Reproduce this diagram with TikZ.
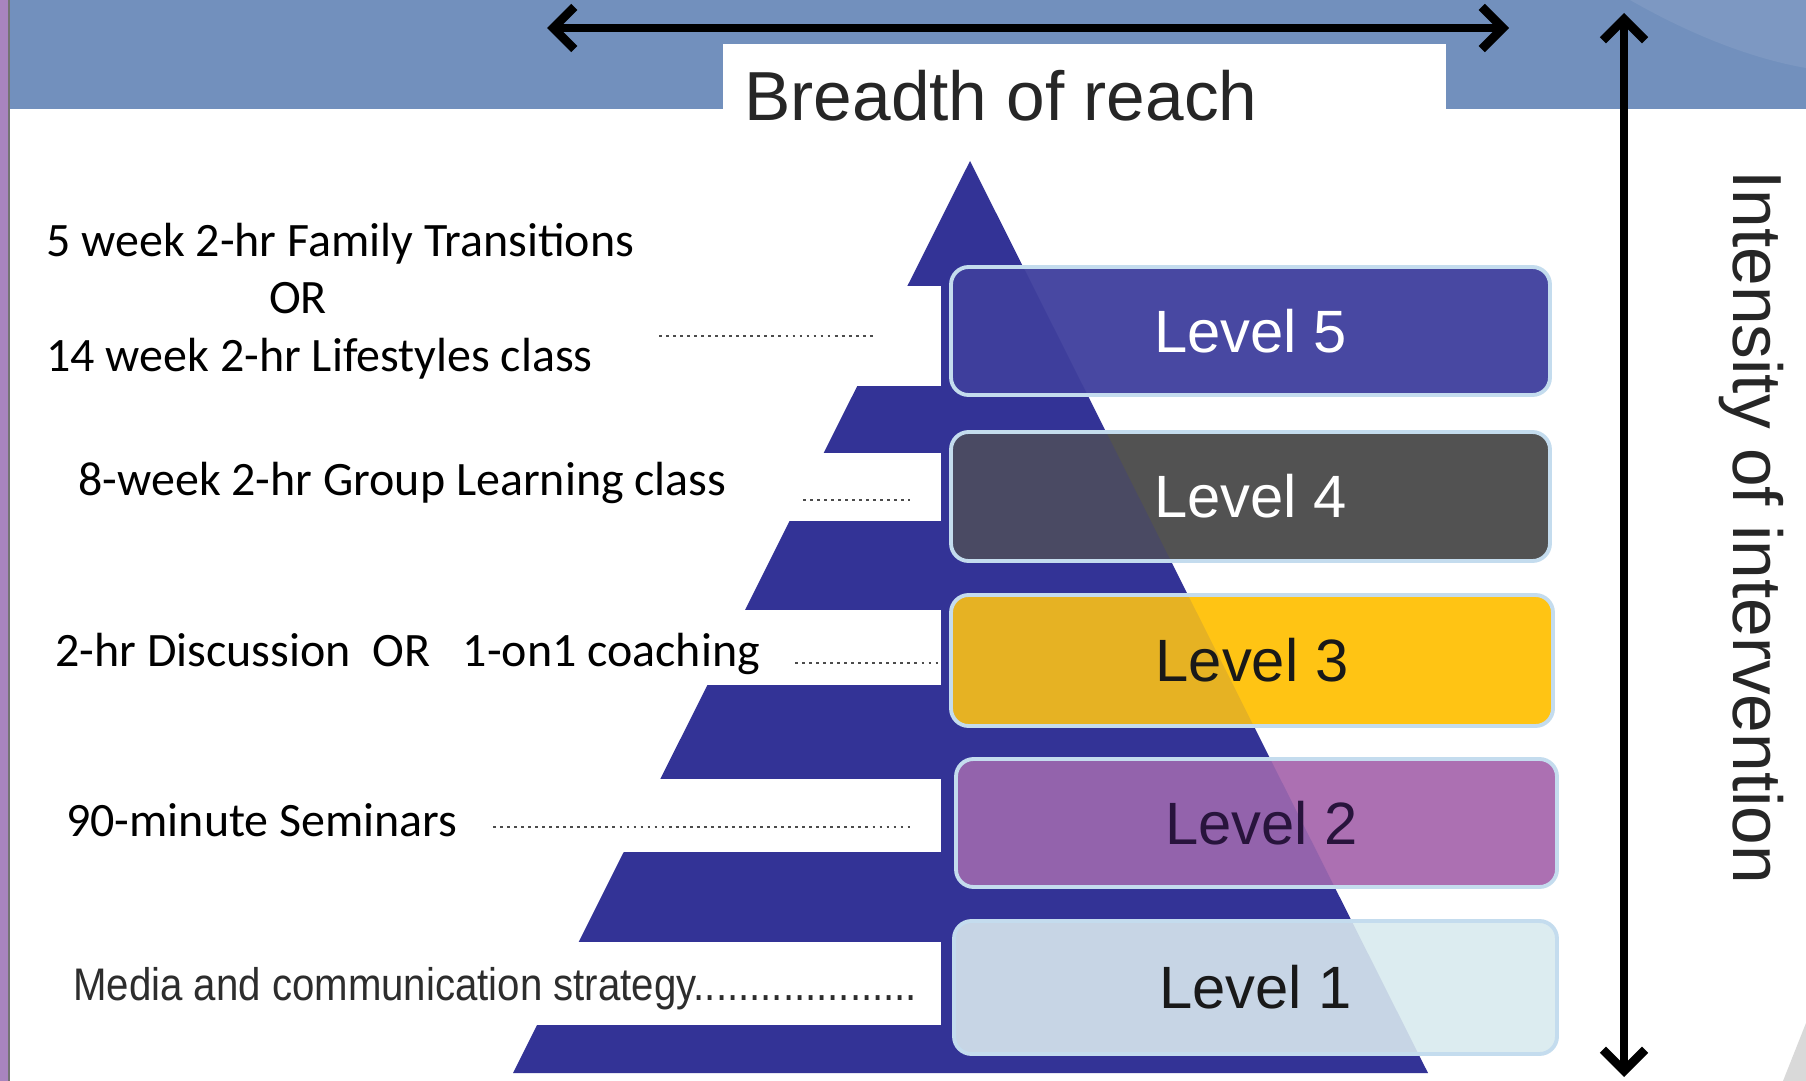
\documentclass[tikz,border=0pt]{standalone}
\usepackage{fontspec}
\setmainfont{Liberation Sans}
\newfontfamily\calib{Carlito}
\usetikzlibrary{arrows.meta}
\definecolor{bandblue}{RGB}{114,144,189}
\definecolor{navy}{RGB}{51,51,150}
\definecolor{lvfive}{RGB}{72,72,162}
\definecolor{lvfour}{RGB}{82,82,82}
\definecolor{lvthree}{RGB}{255,196,20}
\definecolor{lvtwo}{RGB}{172,112,178}
\definecolor{lvone}{RGB}{220,236,240}
\definecolor{glow}{RGB}{196,220,238}
\definecolor{leftpurple}{RGB}{168,132,190}
\definecolor{mediagray}{RGB}{45,45,45}
\definecolor{lvtwotext}{RGB}{40,20,60}
\begin{document}
\begin{tikzpicture}[x=0.02cm,y=-0.02cm,
  levelbox/.style={draw=glow, line width=2.2pt, rounded corners=10pt, inner sep=0pt, font=\fontsize{34}{40}\selectfont},
  shade/.style={path picture={\fill[navy, fill opacity=#1] (apex) -- (baseR) -- (baseL) -- cycle;}},
  sidelabel/.style={anchor=base west, inner sep=0pt, font=\calib\fontsize{27.3}{32}\selectfont},
  axislabel/.style={inner sep=0pt, font=\fontsize{39.5}{46}\selectfont, text=black!85},
  dotleader/.style={draw=black!70, line width=1.6pt, dash pattern=on 1.6pt off 2.4pt},
  bigarrow/.style={line width=5pt, {Straight Barb[length=12pt,width=24pt]}-{Straight Barb[length=12pt,width=24pt]}}
]
\useasboundingbox (0,0) rectangle (1806,1081);
\fill[white] (0,0) rectangle (1806,1081);
% left purple strip
\fill[leftpurple] (0,0) rectangle (8,1081);
\fill[black!55] (8,0) rectangle (10,1081);
% top band
\fill[bandblue] (10,0) rectangle (1806,109);
\fill[white, fill opacity=0.08] (1630,0) .. controls (1700,40) and (1760,60) .. (1806,68) -- (1806,0) -- cycle;
\fill[white] (723,44) rectangle (1446,112);
% bottom-right wedge
\fill[black!15] (1783,1081) -- (1806,1023) -- (1806,1081) -- cycle;
% pyramid
\coordinate (apex) at (970,161);
\coordinate (baseR) at (1428,1073);
\coordinate (baseL) at (513,1073);
\fill[navy] (apex) -- (baseR) -- (baseL) -- cycle;
% white cut-outs
\fill[white] (10,286) rectangle (941,386);
\fill[white] (10,453) rectangle (941,521);
\fill[white] (10,610) rectangle (941,685);
\fill[white] (10,779) rectangle (941,852);
\fill[white] (10,942) rectangle (941,1025);
% level boxes
\node[levelbox, fill=lvfive, shade=0.45, text=white, minimum width={599*0.02cm}, minimum height={128*0.02cm}] (L5) at (1250.5,331) {Level 5};
\node[levelbox, fill=lvfour, shade=0.25, text=white, minimum width={599*0.02cm}, minimum height={129*0.02cm}] (L4) at (1250.5,496.5) {Level 4};
\node[levelbox, fill=lvthree, shade=0.12, text=black!90, minimum width={602*0.02cm}, minimum height={131*0.02cm}] (L3) at (1252,660.5) {Level 3};
\node[levelbox, fill=lvtwo, shade=0.2, text=lvtwotext, minimum width={601*0.02cm}, minimum height={128*0.02cm}] (L2) at (1256.5,823) {\hspace*{6pt}Level 2};
\node[levelbox, fill=lvone, shade=0.12, text=black!90, minimum width={603*0.02cm}, minimum height={133*0.02cm}] (L1) at (1255.5,987.5) {Level 1};
% left labels
\node[sidelabel] (lab5a) at (46,257) {5 week 2-hr Family Transitions};
\node[sidelabel, anchor=base] (lab5or) at (298,314) {OR};
\node[sidelabel] (lab5b) at (46,372) {14 week 2-hr Lifestyles class};
\node[sidelabel] (lab4) at (78,495) {8-week 2-hr Group Learning class};
\node[sidelabel] (lab3) at (55,666) {2-hr Discussion\ \ OR\ \ \ 1-on1 coaching};
\node[sidelabel] (lab2) at (66,836) {90-minute Seminars};
\node[anchor=base west, inner sep=0pt, xscale=0.88, text=mediagray, font=\fontsize{26}{30}\selectfont] (lab1) at (73,1000) {Media and communication strategy....................};
% dotted leaders
\coordinate (d5a) at (659,336); \coordinate (d5b) at (875,336);
\coordinate (d4a) at (803,500); \coordinate (d4b) at (910,500);
\coordinate (d3a) at (795,663); \coordinate (d3b) at (942,663);
\coordinate (d2a) at (493,827); \coordinate (d2b) at (910,827);
\draw[dotleader] (d5a) -- (d5b);
\draw[dotleader] (d4a) -- (d4b);
\draw[dotleader] (d3a) -- (d3b);
\draw[dotleader] (d2a) -- (d2b);
% axes
\coordinate (hL) at (547,28); \coordinate (hR) at (1509,28);
\coordinate (vT) at (1624,13); \coordinate (vB) at (1624,1077);
\draw[bigarrow] (hL) -- (hR);
\draw[bigarrow] (vT) -- (vB);
\node[axislabel, anchor=base] (breadth) at (1001,121) {Breadth of reach};
\node[axislabel, anchor=base west, rotate=-90] (intensity) at (1733,170) {Intensity of intervention};
\end{tikzpicture}
\end{document}
